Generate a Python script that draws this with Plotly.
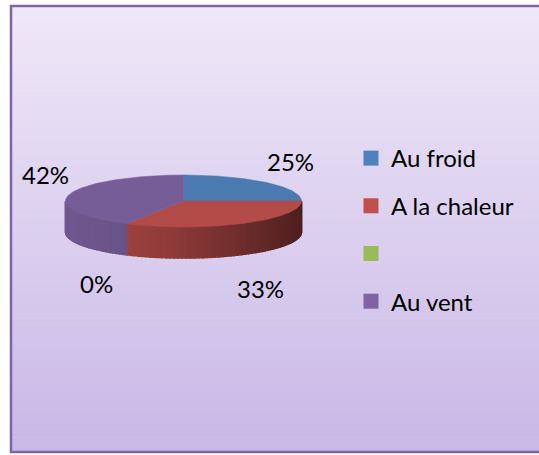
import math
import plotly.graph_objects as go

# ---- data ----
categories = ["Au froid", "A la chaleur", "", "Au vent"]
values = [25, 33, 0, 42]
labels = ["25%", "33%", "0%", "42%"]

# ---- style ----
top_colors = ["#4a7aaf", "#b34b48", "#9bbb59", "#775d97"]
legend_colors = ["#4f81bd", "#c0504d", "#9bbb59", "#8064a2"]
base_rgb = [(79, 129, 189), (192, 80, 77), (155, 187, 89), (128, 100, 162)]
label_nudge = [(4, 4), (3, 3), (-17, -3), (2, -11)]

W, H = 539, 455
cx, cy, ra, rb, depth = 183.5, 201.0, 118.0, 26.0, 31.0


def pt(theta):
    t = math.radians(theta)
    return cx + ra * math.sin(t), cy - rb * math.cos(t)


def lerp(c1, c2, f):
    return tuple(int(round(c1[i] + (c2[i] - c1[i]) * f)) for i in range(3))


def hexc(c):
    return "#%02x%02x%02x" % c


fig = go.Figure()

total = float(sum(values))
starts, ends = [], []
acc = 0.0
for v in values:
    s = acc / total * 360.0
    acc += v
    e = acc / total * 360.0
    starts.append(s)
    ends.append(e)

# side faces (front half: 90..270 deg)
for i, v in enumerate(values):
    if v == 0:
        continue
    s = max(starts[i], 90.0)
    e = min(ends[i], 270.0)
    if e <= s:
        continue
    n = max(2, int((e - s) / 2))
    for k in range(n):
        t0 = s + (e - s) * k / n
        t1 = s + (e - s) * (k + 1) / n
        tm = (t0 + t1) / 2
        sx = math.sin(math.radians(tm))
        f = 0.88 - 0.48 * ((sx + 1) / 2) ** 1.5
        col = hexc(tuple(int(c * f) for c in base_rgb[i]))
        x0, y0 = pt(t0)
        x1, y1 = pt(t1)
        fig.add_trace(go.Scatter(
            x=[x0, x1, x1, x0, x0], y=[y0, y1, y1 + depth, y0 + depth, y0],
            mode="lines", fill="toself", fillcolor=col,
            line=dict(color=col, width=1.6), showlegend=False, hoverinfo="skip"))

# top faces
for i, v in enumerate(values):
    if v == 0:
        continue
    n = max(4, int(ends[i] - starts[i]))
    xs, ys = [cx], [cy]
    for k in range(n + 1):
        x, y = pt(starts[i] + (ends[i] - starts[i]) * k / n)
        xs.append(x)
        ys.append(y)
    xs.append(cx)
    ys.append(cy)
    fig.add_trace(go.Scatter(
        x=xs, y=ys, mode="lines", fill="toself", fillcolor=top_colors[i],
        line=dict(color=top_colors[i], width=0.5), showlegend=False,
        hoverinfo="text", text=f"{categories[i]}: {labels[i]}"))

# data labels
for i, v in enumerate(values):
    mid = math.radians((starts[i] + ends[i]) / 2)
    lx = cx + 145 * math.sin(mid)
    ly = cy - 62 * math.cos(mid)
    if math.cos(mid) < 0:
        ly += depth
    lx += label_nudge[i][0]
    ly += label_nudge[i][1]
    fig.add_annotation(x=lx, y=ly, text=labels[i], showarrow=False,
                       font=dict(family="Lato", size=24, color="#000000"),
                       xanchor="center", yanchor="middle")

# legend entries
for i, name in enumerate(categories):
    fig.add_trace(go.Scatter(
        x=[None], y=[None], mode="markers", name=name if name else " ",
        legendgroup=f"g{i}",
        marker=dict(symbol="square", size=15, color=legend_colors[i])))

# background gradient and frame
top_c, bot_c = (239, 232, 248), (201, 183, 230)
fy0, fy1, fx0, fx1 = 6, 452, 11, 560
shapes = []
N = 90
for k in range(N):
    ya = fy0 + (fy1 - fy0) * k / N
    yb = fy0 + (fy1 - fy0) * (k + 1) / N + 0.6
    c = hexc(lerp(top_c, bot_c, (k + 0.5) / N))
    shapes.append(dict(type="rect", xref="x", yref="y", x0=fx0, x1=fx1, y0=ya, y1=yb,
                       fillcolor=c, line=dict(width=0), layer="below"))
shapes.append(dict(type="rect", xref="x", yref="y", x0=fx0, x1=fx1, y0=fy0, y1=fy1,
                   fillcolor="rgba(0,0,0,0)", line=dict(color="#7f63a6", width=2.5),
                   layer="above"))

fig.update_layout(
    width=W, height=H,
    margin=dict(l=0, r=0, t=0, b=0),
    paper_bgcolor="white", plot_bgcolor="rgba(0,0,0,0)",
    xaxis=dict(range=[0, W], visible=False, fixedrange=True),
    yaxis=dict(range=[H, 0], visible=False, fixedrange=True),
    shapes=shapes,
    showlegend=True,
    legend=dict(x=351 / W, y=1 - 136 / H, xanchor="left", yanchor="top",
                bgcolor="rgba(0,0,0,0)", tracegroupgap=13.5,
                font=dict(family="Lato", size=24, color="#000000"),
                itemclick=False, itemdoubleclick=False),
)

fig.write_html(
    "out.html",
    config={"displayModeBar": False},
    post_script="document.body.style.margin='0';document.body.style.overflow='hidden';",
)
